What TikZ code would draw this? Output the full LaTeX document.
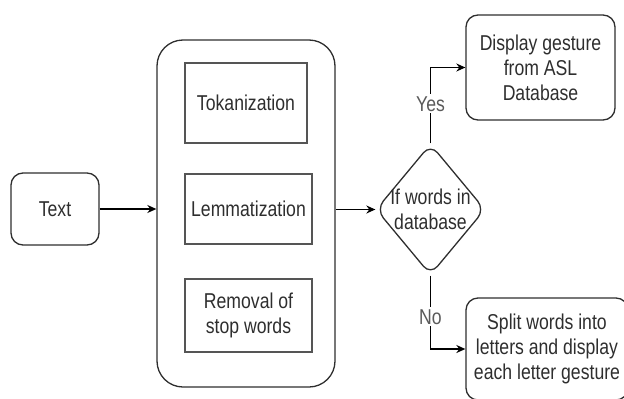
\documentclass[tikz,border=0pt]{standalone}
\usepackage{fontspec}
\setmainfont{Liberation Sans}[FakeStretch=0.82]
\usetikzlibrary{shapes.geometric,arrows.meta}
\definecolor{ink}{HTML}{2E2E2E}
\definecolor{edge}{HTML}{555555}
\definecolor{lbl}{HTML}{5A5A5A}
\begin{document}
\begin{tikzpicture}[x=1pt,y=-1pt,
  every node/.style={font=\fontsize{21.5}{25}\selectfont, text=ink, align=center, inner sep=0pt},
  roundbox/.style={draw=ink, line width=1.3pt, rounded corners=12pt},
  stagebox/.style={draw=edge, line width=2pt},
  decision/.style={draw=ink, line width=1.3pt, diamond, rounded corners=11pt},
  flow/.style={draw=black, line width=1.4pt, -{Stealth[length=9pt,width=8pt]}},
  branch/.style={fill=white, text=lbl, inner sep=2pt}]
\useasboundingbox (0,0) rectangle (624,399);
\begin{scope}
\clip (0,0) rectangle (624,399);
% input
\node[roundbox, minimum width=88pt, minimum height=72pt] (text) at (55,209) {Text};
% preprocessing container and its stages
\node[roundbox, rounded corners=26pt, minimum width=178pt, minimum height=347pt] (prep) at (246,213.5) {};
\node[stagebox, minimum width=122pt, minimum height=80pt] (tok) at (246,103) {Tokanization};
\node[stagebox, minimum width=127pt, minimum height=70pt] (lem) at (248.5,209) {Lemmatization};
\node[stagebox, minimum width=127pt, minimum height=73pt] (stop) at (248.5,315.5) {Removal of\\stop words};
% lookup decision
\node[decision, minimum width=109pt, minimum height=131pt] (dec) at (430.5,209.5) {};
\node at (430.5,209.5) {If words in\\database};
% outputs
\node[roundbox, minimum width=149pt, minimum height=105pt] (disp) at (540.5,67.5) {Display gesture\\from ASL\\Database};
\node[roundbox, minimum width=162pt, minimum height=102pt] (split) at (547,349) {Split words into\\letters and display\\each letter gesture};
% connectors
\draw[flow] (text.east) -- (text.east -| prep.west);
\draw[flow] (prep.east |- dec.west) -- (dec.west);
\draw[flow] (dec.north) |- node[branch, pos=0.26] {Yes} (disp.west);
\draw[flow] (dec.south) |- node[branch, pos=0.28] {No} (split.west);
\end{scope}
\end{tikzpicture}
\end{document}
